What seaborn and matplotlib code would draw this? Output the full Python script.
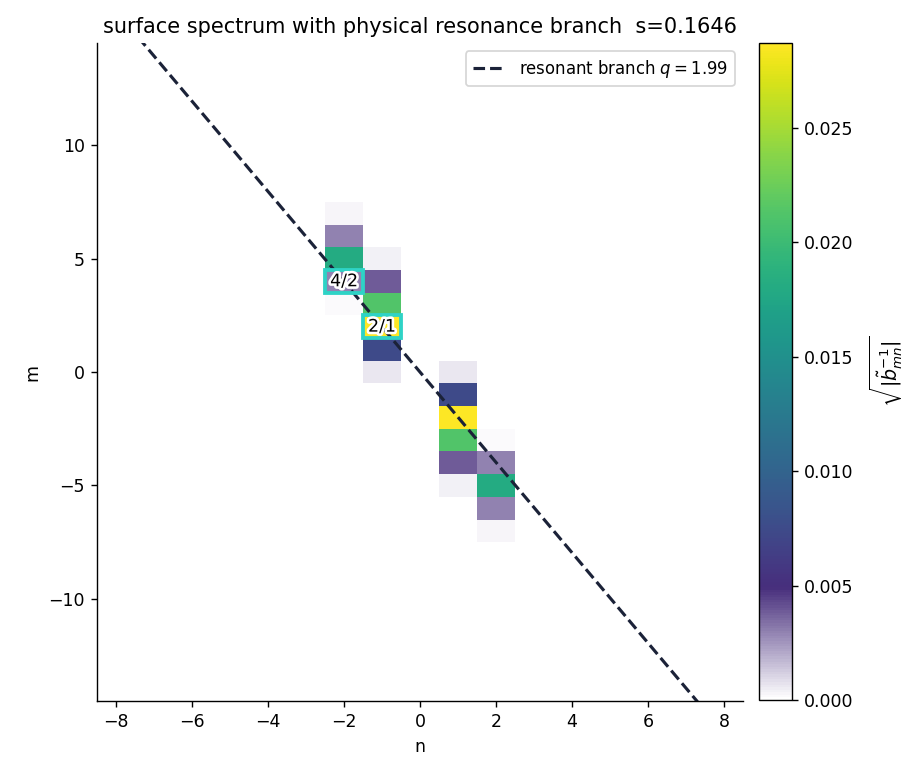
import numpy as np
import pandas as pd
import matplotlib
matplotlib.use("Agg")
import matplotlib.pyplot as plt
import matplotlib.patheffects as pe
from matplotlib.colors import LinearSegmentedColormap
from matplotlib.patches import Rectangle
import seaborn as sns

# spectrum cells (n, m) and their amplitude sqrt(|b_mn^-1|)
n_vals = [-2, -2, -2, -2, -2,
          -1, -1, -1, -1, -1, -1,
          1, 1, 1, 1, 1, 1,
          2, 2, 2, 2, 2]
m_vals = [7, 6, 5, 4, 3,
          5, 4, 3, 2, 1, 0,
          0, -1, -2, -3, -4, -5,
          -3, -4, -5, -6, -7]
amp = [0.0003, 0.0030, 0.0180, 0.0030, 0.0002,
       0.0004, 0.0039, 0.0213, 0.0287, 0.0075, 0.0006,
       0.0006, 0.0075, 0.0287, 0.0213, 0.0039, 0.0004,
       0.0002, 0.0030, 0.0180, 0.0030, 0.0003]

# labelled resonant harmonics
res_labels = ["4/2", "2/1"]
res_n = [-2, -1]
res_m = [4, 2]

q = 1.99
s_val = 0.1646

df = pd.DataFrame({"n": n_vals, "m": m_vals, "amp": amp})

# white -> viridis colormap
vir = plt.get_cmap("viridis")
t0, p0 = 0.13, 0.17
ts = np.linspace(t0, 1.0, 30)
pos = p0 + (ts - t0) / (1 - t0) * (1 - p0)
pos[-1] = 1.0
stops = [(0.0, (1, 1, 1, 1))] + [(float(p), vir(t)) for p, t in zip(pos, ts)]
cmap = LinearSegmentedColormap.from_list("white_viridis", stops)

sns.set_style("ticks", {"text.color": "black", "axes.labelcolor": "black",
                        "xtick.color": "black", "ytick.color": "black",
                        "axes.edgecolor": "black"})
fig = plt.figure(figsize=(920 / 125, 777 / 125), dpi=125)
ax = fig.add_axes([0.1054, 0.0978, 0.7022, 0.8468])
cax = fig.add_axes([0.8250, 0.0991, 0.0359, 0.8455])

sns.histplot(data=df, x="n", y="m", weights="amp", discrete=True,
             cmap=cmap, vmin=0, vmax=0.0287, cbar=True, cbar_ax=cax, ax=ax)
cax.set_ylabel(r"$\sqrt{|\tilde{b}^{-1}_{mn}|}$", fontsize=11, labelpad=8)

# resonance line m = -q n
xl = np.array([-8.5, 8.5])
sns.lineplot(x=xl, y=-q * xl, ax=ax, color="#1b2238", linestyle="--", lw=1.8,
             label=rf"resonant branch $q={q:.2f}$")

for lab, nn, mm in zip(res_labels, res_n, res_m):
    ax.add_patch(Rectangle((nn - 0.5, mm - 0.5), 1, 1, fill=False,
                           edgecolor="#2ed3c6", lw=2.2, zorder=4))
    ax.text(nn, mm, lab, ha="center", va="center", fontsize=10, zorder=5,
            path_effects=[pe.withStroke(linewidth=3, foreground="white")])

ax.set_xlim(-8.5, 8.5)
ax.set_ylim(-14.5, 14.5)
ax.set_xlabel("n")
ax.set_ylabel("m")
ax.set_title(f"surface spectrum with physical resonance branch  s={s_val}")
ax.legend(loc="upper right", fontsize=9.5)
sns.despine(ax=ax)

fig.savefig("out.png", dpi=125)
